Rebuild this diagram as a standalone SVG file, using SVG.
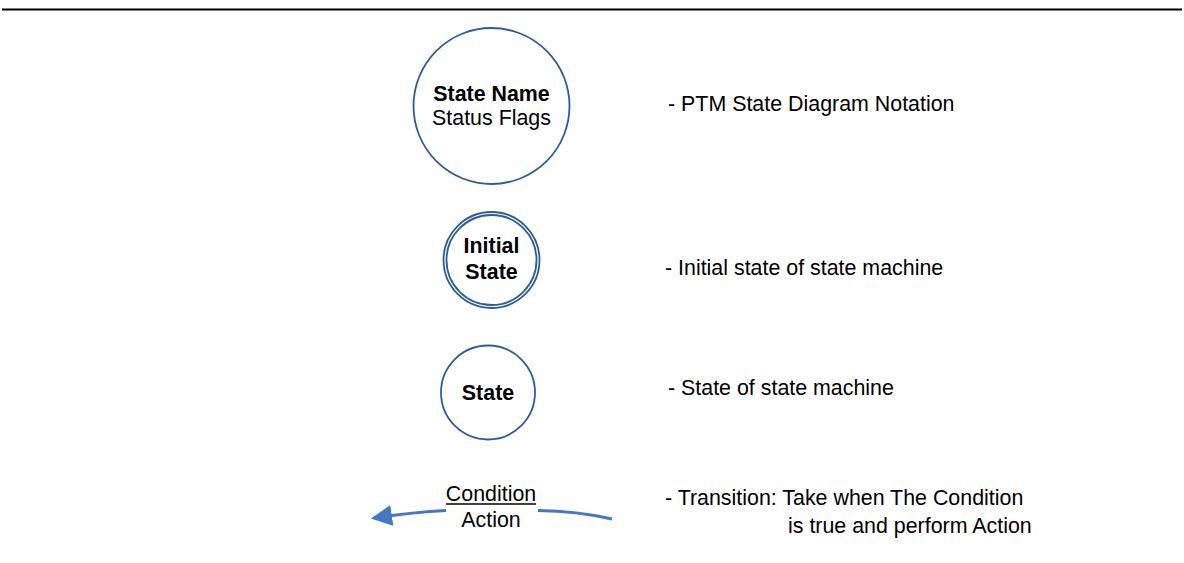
<svg xmlns="http://www.w3.org/2000/svg" width="1184" height="563" viewBox="0 0 1184 563">
<style>
text{font-family:"Liberation Sans",Arial,sans-serif;font-size:21.4px;fill:#000}
.b{font-weight:bold}
.st{fill:#fff;stroke:#2f5c97;stroke-width:1.8}
.conn{fill:none;stroke:#4677c3;stroke-width:3}
</style>
<defs>
<marker id="ah" markerWidth="8" markerHeight="8" refX="6" refY="4" orient="auto" markerUnits="strokeWidth">
<path d="M0,0.5 L7,4 L0,7.5 Z" fill="#4677c3"/>
</marker>
</defs>
<rect width="1184" height="563" fill="#fff"/>
<line x1="2" y1="9.5" x2="1182" y2="9.5" stroke="#000" stroke-width="2"/>
<g id="node-statename">
<circle class="st" cx="491.5" cy="106" r="78"/>
<text class="b" x="491.5" y="101" text-anchor="middle">State Name</text>
<text x="491.5" y="125" text-anchor="middle">Status Flags</text>
</g>
<g id="node-initial">
<circle class="st" cx="491.5" cy="260" r="48"/>
<circle class="st" cx="491.5" cy="260" r="45" fill="none"/>
<text class="b" x="491.5" y="253" text-anchor="middle">Initial</text>
<text class="b" x="491.5" y="279" text-anchor="middle">State</text>
</g>
<g id="node-state">
<circle class="st" cx="488" cy="392.5" r="47"/>
<text class="b" x="488" y="400" text-anchor="middle">State</text>
</g>
<g id="connectors">
<path class="conn" d="M612,519 Q577,511 538,510.5"/>
<path class="conn" d="M446,510.5 Q415,512 374,518" marker-end="url(#ah)"/>
</g>
<g id="label-transition">
<text x="491" y="501" text-anchor="middle">Condition</text>
<line x1="446" y1="504" x2="536" y2="504" stroke="#000" stroke-width="1.3"/>
<text x="491" y="527" text-anchor="middle">Action</text>
</g>
<g id="legend">
<text x="668" y="111">- PTM State Diagram Notation</text>
<text x="665" y="275">- Initial state of state machine</text>
<text x="668" y="395">- State of state machine</text>
<text x="665" y="505">- Transition: Take when The Condition</text>
<text x="788" y="533">is true and perform Action</text>
</g>
</svg>
